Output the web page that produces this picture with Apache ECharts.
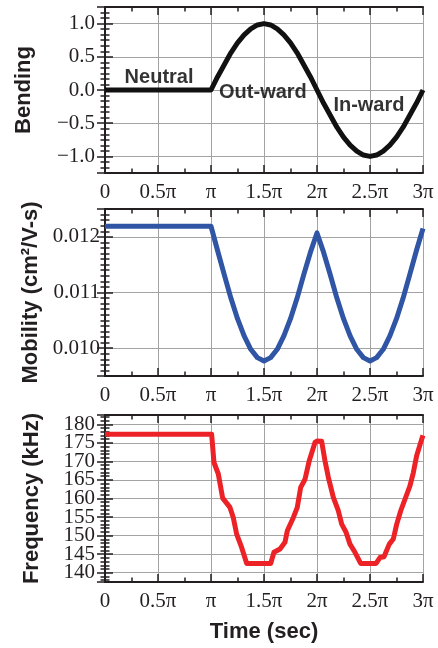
<!DOCTYPE html>
<html>
<head>
<meta charset="utf-8">
<script src="https://cdn.jsdelivr.net/npm/echarts@6/dist/echarts.min.js"></script>
<style>
  html, body { margin: 0; padding: 0; background: #fff; }
  #chart { width: 438px; height: 648px; }
</style>
</head>
<body>
<div id="chart"></div>
<script>
// time is in units of pi
const timeTickLabels = ['0', '0.5π', 'π', '1.5π', '2π', '2.5π', '3π'];

const bendingTime = [0, 1, 1.0625, 1.125, 1.1875, 1.25, 1.3125, 1.375, 1.4375, 1.5,
  1.5625, 1.625, 1.6875, 1.75, 1.8125, 1.875, 1.9375, 2,
  2.0625, 2.125, 2.1875, 2.25, 2.3125, 2.375, 2.4375, 2.5,
  2.5625, 2.625, 2.6875, 2.75, 2.8125, 2.875, 2.9375, 3];
const bendingValue = [0, 0, 0.2, 0.38, 0.56, 0.71, 0.83, 0.92, 0.98, 1,
  0.98, 0.92, 0.83, 0.71, 0.56, 0.38, 0.2, 0,
  -0.2, -0.38, -0.56, -0.71, -0.83, -0.92, -0.98, -1,
  -0.98, -0.92, -0.83, -0.71, -0.56, -0.38, -0.2, 0];

const mobilityTime = bendingTime;
const mobilityValue = [0.01219, 0.01219, 0.01175, 0.01132, 0.0109, 0.01053, 0.01022, 0.00998, 0.00983, 0.00977,
  0.00983, 0.00998, 0.01022, 0.01053, 0.0109, 0.01132, 0.01172, 0.01207,
  0.01172, 0.01132, 0.0109, 0.01053, 0.01022, 0.00998, 0.00983, 0.00977,
  0.00983, 0.00998, 0.01022, 0.01053, 0.0109, 0.01132, 0.01175, 0.01215];

const freqTime = [0, 1.006, 1.028, 1.069, 1.11, 1.179, 1.21, 1.242, 1.289, 1.337,
  1.563, 1.594, 1.651, 1.698, 1.72, 1.777, 1.814, 1.846, 1.887, 1.927,
  1.981, 2.003, 2.044, 2.075, 2.107, 2.154, 2.201, 2.233, 2.274, 2.311,
  2.358, 2.412, 2.557, 2.594, 2.632, 2.682, 2.72, 2.752, 2.79, 2.83,
  2.877, 2.909, 2.94, 2.988, 3];
const freqValue = [177.3, 177.3, 169.7, 166.6, 160.1, 157.6, 154.9, 150.4, 146.8, 142.5,
  142.5, 145.5, 146.4, 148.2, 151.3, 154.9, 157.6, 163, 165.2, 170.2,
  175.1, 175.5, 175.4, 170.2, 165.7, 160.3, 156.7, 153.1, 150.9, 147.7,
  145.5, 142.5, 142.5, 144.1, 144.3, 147.7, 149.1, 153.1, 156.7, 159.8,
  163.4, 167, 171.5, 176, 177];

const annotationText = ['Neutral', 'Out-ward', 'In-ward'];
const annotationTime = [0.51, 1.49, 2.49];
const annotationBend = [0.195, -0.045, -0.24];

const ink = '#231f20';
const serif = 'Liberation Serif';
const sans = 'Liberation Sans';

// ticks point into the plot: negative length flips them
const tickStyle = { show: true, length: -8, lineStyle: { color: ink, width: 1.5 } };
function minorStyle(n) {
  return { show: true, splitNumber: n, length: -4.5, lineStyle: { color: ink, width: 1.5 } };
}

function pairs(xs, ys) { return xs.map((x, i) => [x, ys[i]]); }

function xAxes(gridIndex, withName) {
  const base = {
    type: 'value', gridIndex: gridIndex, min: 0, max: 3, interval: 0.5,
    axisLine: { show: true, onZero: false, lineStyle: { color: ink, width: 2 } },
    axisTick: tickStyle,
    minorTick: minorStyle(2),
  };
  const bottom = Object.assign({}, base, {
    position: 'bottom',
    splitLine: { show: true, lineStyle: { color: '#a3a3a3', width: 1 } },
    axisLabel: {
      interval: 0, margin: 9, fontFamily: serif, fontSize: 21, color: ink,
      formatter: v => timeTickLabels[Math.round(v / 0.5)]
    }
  });
  if (withName) {
    Object.assign(bottom, {
      name: 'Time (sec)', nameLocation: 'middle', nameGap: 39,
      nameTextStyle: { fontFamily: sans, fontWeight: 'bold', fontSize: 22, color: ink }
    });
  }
  const top = Object.assign({}, base, {
    position: 'top', splitLine: { show: false }, axisLabel: { show: false }
  });
  return [bottom, top];
}

function yAxes(gridIndex, min, max, splitNumber, minorSplit, major, fmt, name, nameGap, margin) {
  const base = {
    type: 'value', gridIndex: gridIndex, min: min, max: max, splitNumber: splitNumber,
    axisLine: { show: true, lineStyle: { color: ink, width: 2 } },
    axisTick: tickStyle,
    minorTick: minorStyle(minorSplit),
  };
  const left = Object.assign({}, base, {
    position: 'left',
    name: name, nameLocation: 'middle', nameGap: nameGap,
    nameTextStyle: { fontFamily: sans, fontWeight: 'bold', fontSize: 22, color: ink },
    splitLine: { show: true, lineStyle: { color: '#a3a3a3', width: 1 } },
    axisLabel: {
      margin: margin, fontFamily: serif, fontSize: 21, color: ink,
      formatter: v => {
        const k = v / major;
        if (Math.abs(k - Math.round(k)) > 1e-6) return '';
        return fmt(v).replace('-', '−');
      }
    }
  });
  const right = Object.assign({}, base, {
    position: 'right', splitLine: { show: false }, axisLabel: { show: false }
  });
  return [left, right];
}

const chart = echarts.init(document.getElementById('chart'));

const option = {
  animation: false,
  grid: [
    { left: 105, top: 7, width: 318, height: 166 },
    { left: 105, top: 209, width: 318, height: 167 },
    { left: 105, top: 415, width: 318, height: 167 }
  ],
  xAxis: [].concat(xAxes(0, false), xAxes(1, false), xAxes(2, true)),
  yAxis: [].concat(
    yAxes(0, -1.25, 1.25, 5, 6, 0.5, v => v.toFixed(1), 'Bending', 70, 10),
    yAxes(1, 0.0095, 0.0125, 3, 10, 0.001, v => v.toFixed(3), 'Mobility (cm²/V-s)', 62, 5),
    yAxes(2, 137.5, 182.5, 9, 5, 5, v => v.toFixed(0), 'Frequency (kHz)', 62, 10)
  ),
  series: [
    {
      type: 'line', xAxisIndex: 0, yAxisIndex: 0, data: pairs(bendingTime, bendingValue),
      showSymbol: false, lineStyle: { color: '#111', width: 5, join: 'round' }
    },
    {
      type: 'scatter', xAxisIndex: 0, yAxisIndex: 0, symbolSize: 0.1,
      itemStyle: { color: ink },
      data: annotationTime.map((t, i) => [t, annotationBend[i], annotationText[i]]),
      label: {
        show: true, position: 'top', distance: 0, align: 'center', verticalAlign: 'middle',
        formatter: p => p.data[2],
        fontFamily: sans, fontWeight: 'bold', fontSize: 20, color: '#000'
      }
    },
    {
      type: 'line', xAxisIndex: 2, yAxisIndex: 2, data: pairs(mobilityTime, mobilityValue),
      showSymbol: false, lineStyle: { color: '#2f55a4', width: 5, join: 'round' }
    },
    {
      type: 'line', xAxisIndex: 4, yAxisIndex: 4, data: pairs(freqTime, freqValue),
      showSymbol: false, lineStyle: { color: '#ec2227', width: 5, join: 'round' }
    }
  ]
};

chart.setOption(option);
</script>
</body>
</html>
